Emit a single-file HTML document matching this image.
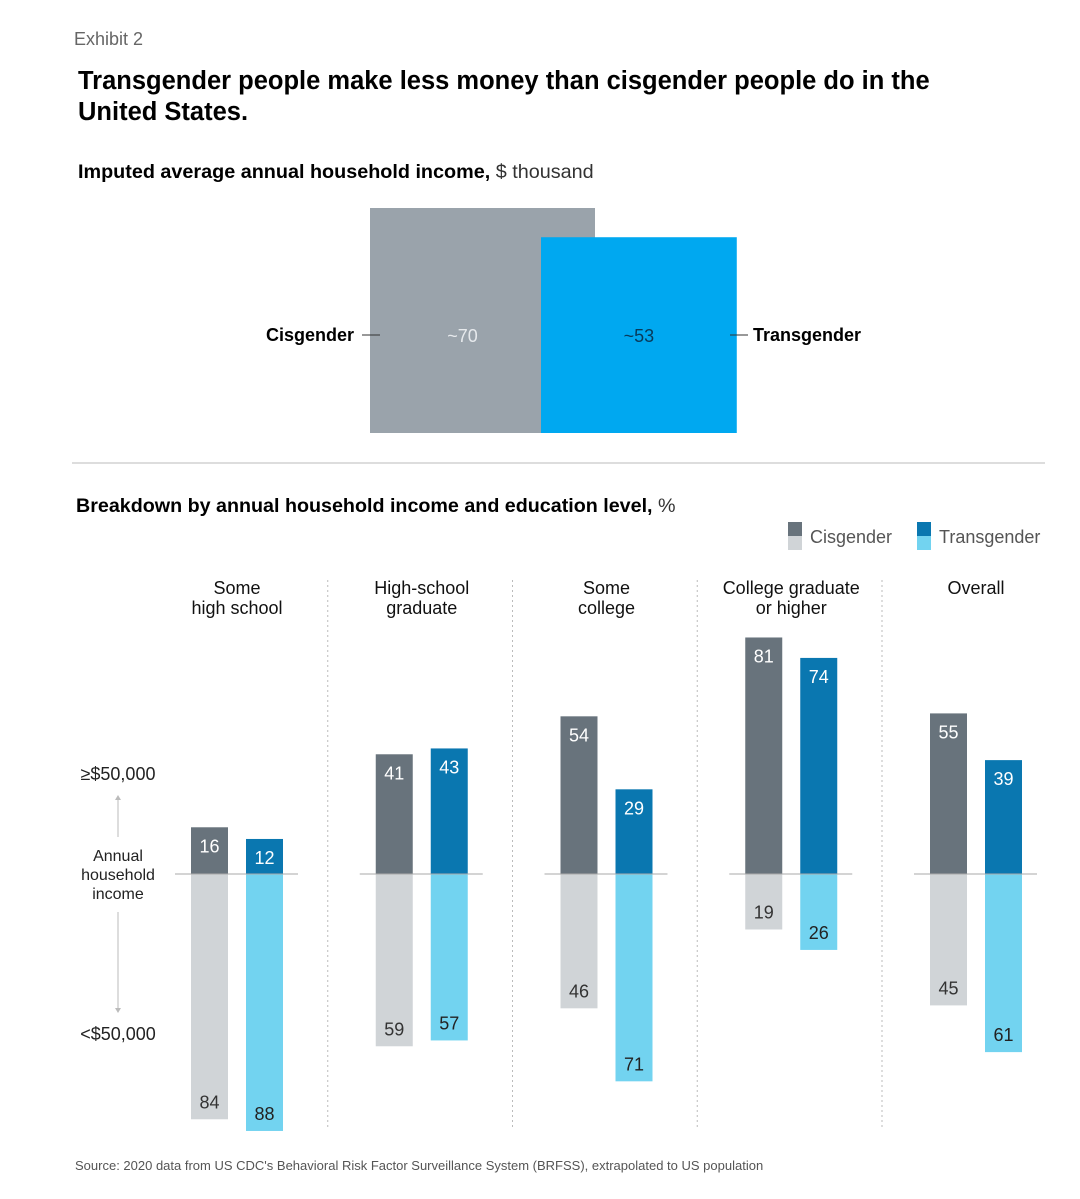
<!DOCTYPE html>
<html><head><meta charset="utf-8">
<style>
body{margin:0;background:#fff;width:1080px;height:1194px;overflow:hidden;font-family:"Liberation Sans",Arial,sans-serif}
svg text{font-family:"Liberation Sans",Arial,sans-serif}
</style></head><body>
<svg id="c" width="1080" height="1194" xmlns="http://www.w3.org/2000/svg">
<text x="74" y="45" font-size="18" fill="#666">Exhibit 2</text>
<text x="78" y="89" font-size="25.5" font-weight="bold" fill="#000">Transgender people make less money than cisgender people do in the</text>
<text x="78" y="120" font-size="25.5" font-weight="bold" fill="#000">United States.</text>
<text x="78" y="178" font-size="19.8" fill="#000"><tspan font-weight="bold">Imputed average annual household income,</tspan> <tspan fill="#333">$ thousand</tspan></text>
<g id="sq"></g>
<line x1="72" y1="463" x2="1045" y2="463" stroke="#bbb" stroke-width="1"/>
<text x="76" y="512" font-size="19.7" fill="#000"><tspan font-weight="bold">Breakdown by annual household income and education level,</tspan> <tspan fill="#333">%</tspan></text>
<g>
<rect x="788" y="522" width="14" height="14" fill="#68737c"/><rect x="788" y="536" width="14" height="14" fill="#d0d4d7"/>
<text x="810" y="543" font-size="18" fill="#555">Cisgender</text></g>
<g>
<rect x="917" y="522" width="14" height="14" fill="#0a77b0"/><rect x="917" y="536" width="14" height="14" fill="#72d3f0"/>
<text x="939" y="543" font-size="18" fill="#555">Transgender</text></g>
<g>
<text x="118" y="780" font-size="18" fill="#222" text-anchor="middle">≥$50,000</text>
<text x="118" y="1040" font-size="18" fill="#222" text-anchor="middle">&lt;$50,000</text>
<text x="118" y="861" font-size="16" fill="#222" text-anchor="middle">Annual</text>
<text x="118" y="880" font-size="16" fill="#222" text-anchor="middle">household</text>
<text x="118" y="899" font-size="16" fill="#222" text-anchor="middle">income</text>
<line x1="118" y1="800" x2="118" y2="837" stroke="#bbb"/><polygon points="115,800 121,800 118,795" fill="#bbb"/>
<line x1="118" y1="912" x2="118" y2="1010" stroke="#bbb"/><polygon points="115,1008 121,1008 118,1013" fill="#bbb"/>
</g>
<g id="bars"></g>
<text x="75" y="1170" font-size="13" fill="#555">Source: 2020 data from US CDC's Behavioral Risk Factor Surveillance System (BRFSS), extrapolated to US population</text>
</svg>
<script>
const avgLabels=["Cisgender","Transgender"];
const avgValues=[70,53];
const categories=[["Some","high school"],["High-school","graduate"],["Some","college"],["College graduate","or higher"],["Overall"]];
const cisAbove=[16,41,54,81,55];
const cisBelow=[84,59,46,19,45];
const transAbove=[12,43,29,74,39];
const transBelow=[88,57,71,26,61];
const NS="http://www.w3.org/2000/svg";
function mk(tag,attrs,parent,txt){const e=document.createElementNS(NS,tag);for(const k in attrs)e.setAttribute(k,attrs[k]);if(txt!==undefined)e.textContent=txt;parent.appendChild(e);return e;}
const sq=document.getElementById('sq');
const side=v=>225*Math.sqrt(v/avgValues[0]);
const base=433;
const s0=side(avgValues[0]),s1=side(avgValues[1]);
const cx0=370,cx1=541;
let r=mk('rect',{x:cx0,y:base-s0,width:s0,height:s0,fill:'#9aa3ab'},sq);


r=mk('rect',{x:cx1,y:base-s1,width:s1,height:s1,fill:'#00a8f0'},sq);


let t=mk('text',{x:(cx0+cx1)/2+7,y:342,'font-size':18,fill:'#e6e9ec','text-anchor':'middle'},sq,'~'+avgValues[0]);


t=mk('text',{x:cx1+s1/2,y:342,'font-size':18,fill:'#083a5a','text-anchor':'middle'},sq,'~'+avgValues[1]);


mk('line',{x1:362,y1:335,x2:380,y2:335,stroke:'#333'},sq);
mk('line',{x1:730,y1:335,x2:748,y2:335,stroke:'#333'},sq);
t=mk('text',{x:354,y:341,'font-size':18,'font-weight':'bold','text-anchor':'end',fill:'#000'},sq,avgLabels[0]);


t=mk('text',{x:753,y:341,'font-size':18,'font-weight':'bold',fill:'#000'},sq,avgLabels[1]);


const g=document.getElementById('bars');
const y0=874,k=2.92,bw=37,gap=18,step=184.75,g0=191;
const yv=v=>v*k;
categories.forEach((c,i)=>{
  const x=g0+i*step;
  const cxm=x+(bw*2+gap)/2;
  c.forEach((ln,j)=>{const tt=mk('text',{x:cxm,y:594+j*20,'font-size':18,fill:'#111','text-anchor':'middle'},g,ln);
    
    });
  if(i>0){const d=mk('line',{x1:x-48,y1:580,x2:x-48,y2:1130,stroke:'#bbb','stroke-dasharray':'2,3'},g);
    
    }
  const sets=[[cisAbove[i],cisBelow[i],x,'#68737c','#d0d4d7','#fff','#333','cis'],[transAbove[i],transBelow[i],x+bw+gap,'#0a77b0','#72d3f0','#fff','#222','trans']];
  sets.forEach(s=>{
    const [a,b,bx,ca,cb,ta,tb,nm]=s;
    let rr=mk('rect',{x:bx,y:y0-yv(a),width:bw,height:yv(a),fill:ca},g);
    
    
    rr=mk('rect',{x:bx,y:y0,width:bw,height:yv(b),fill:cb},g);
    
    
    let l=mk('text',{x:bx+bw/2,y:y0-yv(a)+25,'font-size':18,fill:ta,'text-anchor':'middle'},g,a);
    
    
    l=mk('text',{x:bx+bw/2,y:y0+yv(b)-11,'font-size':18,fill:tb,'text-anchor':'middle'},g,b);
    
    
  });
  const bl=mk('line',{x1:x-16,y1:y0,x2:x+bw*2+gap+15,y2:y0,stroke:'#aaa'},g);
  
  
});
</script>
</body></html>
